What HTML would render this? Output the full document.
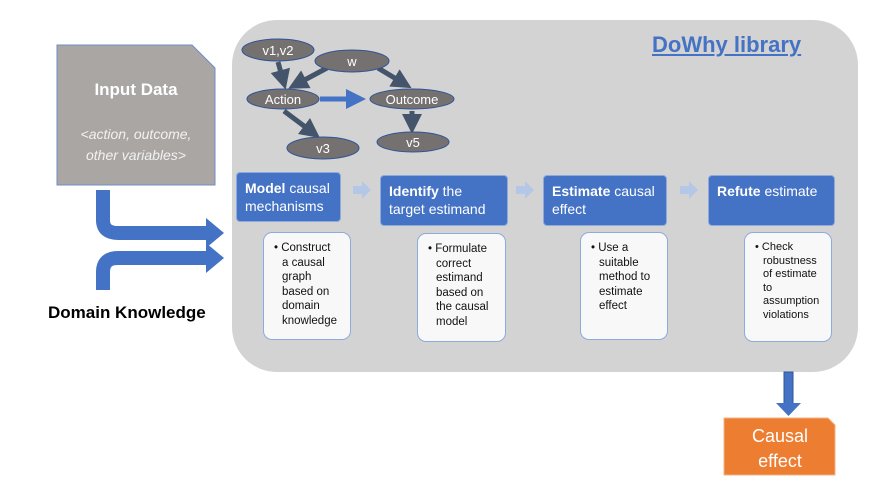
<!DOCTYPE html>
<html><head><style>
body{margin:0;width:885px;height:489px;background:#fff;position:relative;overflow:hidden;font-family:"Liberation Sans",sans-serif}
.a{position:absolute}
.blue{background:#4472c4;color:#fff;border:1px solid #8faadc;border-radius:4px;font-size:14px;line-height:18px;padding:6px 8px;box-sizing:border-box}
.wh{background:#f8f8f8;border:1.5px solid #8faadc;border-radius:9px;font-size:11.5px;line-height:14.5px;color:#111;padding:8px 10px 0 18px;box-sizing:border-box;text-indent:-8px}
</style></head><body>
<div class="a" style="left:232px;top:20px;width:626px;height:352px;background:#d3d3d3;border-radius:45px"></div>
<div class="a" style="left:652px;top:32px;font-size:22px;font-weight:bold;color:#4472c4;text-decoration:underline">DoWhy library</div>
<svg class="a" style="left:0;top:0" width="885" height="489">
<defs><marker id="m" markerWidth="4" markerHeight="4" refX="2" refY="2" orient="auto"><path d="M0,0L4,2L0,4z" fill="#44546a"/></marker>
<marker id="mb" markerWidth="4" markerHeight="4" refX="2" refY="2" orient="auto"><path d="M0,0L4,2L0,4z" fill="#4472c4"/></marker></defs>
<polygon points="57,45 192,45 215,68 215,185 57,185" fill="#aaa6a4" stroke="#6f8fc7"/>
<g stroke="#44546a" stroke-width="5" fill="none" marker-end="url(#m)">
<line x1="278" y1="62" x2="283" y2="80"/>
<line x1="327" y1="68" x2="297" y2="84"/>
<line x1="378" y1="68" x2="403" y2="83"/>
<line x1="284" y1="111" x2="312" y2="132"/>
<line x1="412" y1="111" x2="412" y2="124"/>
</g>
<line x1="320" y1="99" x2="356" y2="99" stroke="#4472c4" stroke-width="5" marker-end="url(#mb)"/>
<g fill="#757171" stroke="#2f5597" stroke-width="1">
<ellipse cx="278" cy="50" rx="36" ry="11"/><ellipse cx="352" cy="61" rx="37" ry="11"/>
<ellipse cx="283" cy="99" rx="36" ry="10"/><ellipse cx="412" cy="99" rx="42" ry="10"/>
<ellipse cx="323" cy="148" rx="36" ry="11"/><ellipse cx="413" cy="142" rx="36" ry="10"/>
</g>
<g fill="#fff" font-size="13" text-anchor="middle" font-family="Liberation Sans">
<text x="278" y="55">v1,v2</text><text x="352" y="66">w</text><text x="283" y="104">Action</text>
<text x="412" y="104">Outcome</text><text x="323" y="153">v3</text><text x="413" y="147">v5</text></g>
<g fill="#b4c7e7"><polygon points="353,186 362,186 362,181 371,190 362,199 362,194 353,194"/>
<polygon points="516,186 525,186 525,181 534,190 525,199 525,194 516,194"/>
<polygon points="680,186 689,186 689,181 698,190 689,199 689,194 680,194"/></g>
<path d="M103,190 V220 Q103,233 118,233 H208" stroke="#4472c4" stroke-width="14" fill="none"/>
<polygon points="206,218 224,233 206,248" fill="#4472c4"/>
<path d="M103,290 V272 Q103,258 118,258 H208" stroke="#4472c4" stroke-width="14" fill="none"/>
<polygon points="206,243 224,258 206,273" fill="#4472c4"/>
<rect x="784" y="372" width="9" height="32" fill="#4472c4" stroke="#2f5597"/>
<polygon points="776,403 801,403 788.5,416" fill="#4472c4"/>
<polygon points="724,418 828,418 835,425 835,475 724,475" fill="#ed7d31" stroke="#f4b183"/>
<text x="780" y="442" fill="#fff" font-size="18" text-anchor="middle" font-family="Liberation Sans">Causal</text>
<text x="780" y="467" fill="#fff" font-size="18" text-anchor="middle" font-family="Liberation Sans">effect</text>
</svg>
<div class="a" style="left:57px;top:80px;width:158px;text-align:center;color:#fff;font-weight:bold;font-size:17px">Input Data</div>
<div class="a" style="left:57px;top:124px;width:158px;text-align:center;color:#f2f2f2;font-style:italic;font-size:14px;line-height:21px">&lt;action, outcome,<br>other variables&gt;</div>
<div class="a" style="left:48px;top:303px;font-weight:bold;font-size:17px;color:#000">Domain Knowledge</div>
<div class="a blue" style="left:236px;top:172px;width:105px;height:50px"><b>Model</b> causal mechanisms</div>
<div class="a blue" style="left:380px;top:175px;width:128px;height:51px"><b>Identify</b> the target estimand</div>
<div class="a blue" style="left:543px;top:175px;width:124px;height:51px"><b>Estimate</b> causal effect</div>
<div class="a blue" style="left:708px;top:175px;width:127px;height:51px"><b>Refute</b> estimate</div>
<div class="a wh" style="left:263px;top:232px;width:88px;height:108px">• Construct a causal graph based on domain knowledge</div>
<div class="a wh" style="left:417px;top:233px;width:89px;height:109px">• Formulate correct estimand based on the causal model</div>
<div class="a wh" style="left:580px;top:232px;width:88px;height:108px">• Use a suitable method to estimate effect</div>
<div class="a wh" style="left:744px;top:232px;width:88px;height:110px;font-size:11px;line-height:13.5px">• Check robustness of estimate to assumption violations</div>
</body></html>
